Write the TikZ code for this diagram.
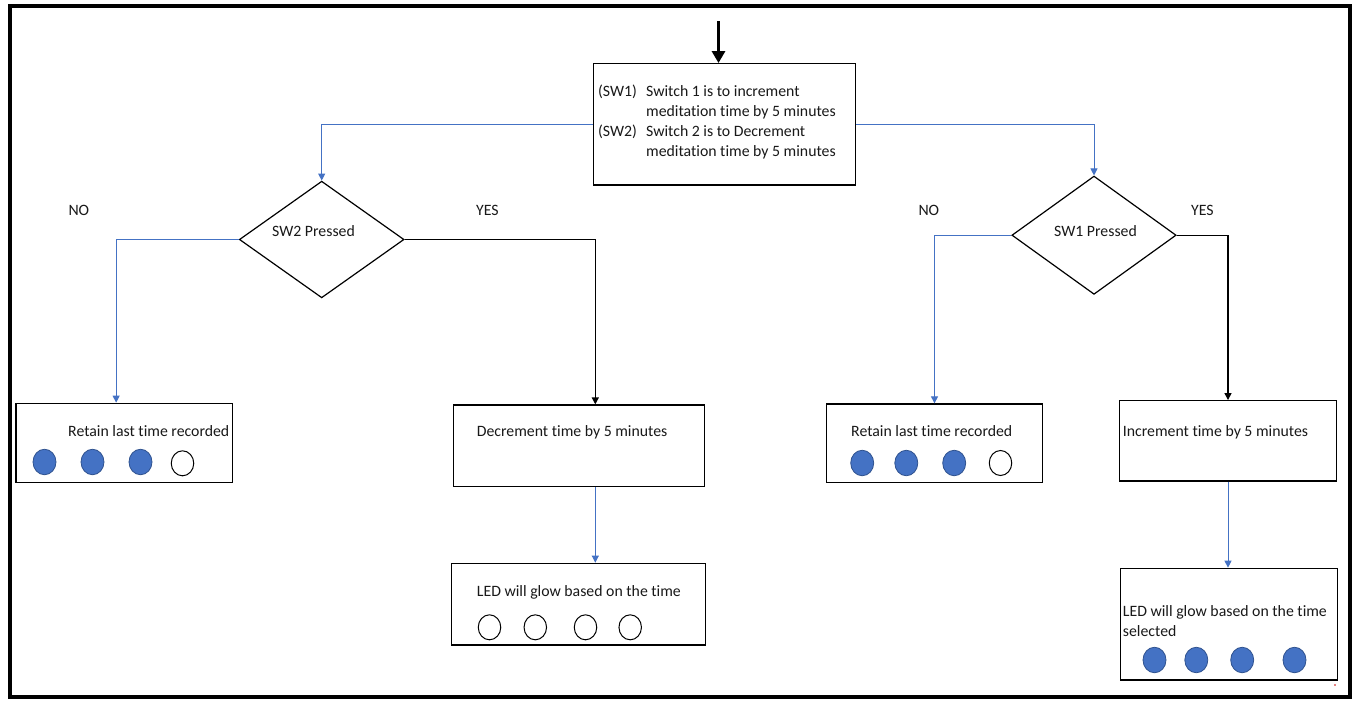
\documentclass[tikz,border=0pt]{standalone}
\usepackage{fontspec}
\setmainfont[Ligatures=NoCommon]{Carlito}
\usetikzlibrary{arrows.meta,shapes.geometric,calc}
\definecolor{offblue}{HTML}{4472C4}
\definecolor{lededge}{HTML}{2F528F}
\begin{document}
\begin{tikzpicture}[x=1pt,y=-1pt,
  font=\fontsize{15.8}{20}\selectfont,
  box/.style={draw=black,line width=1.3pt,rectangle,inner sep=0pt,fill=white},
  decision/.style={draw=black,line width=1.2pt,diamond,inner sep=0pt,aspect=1.4},
  txt/.style={anchor=base west,inner sep=0pt,text=black!90},
  bluearrow/.style={draw=offblue,line width=1pt,-{Triangle[width=7pt,length=7pt]}},
  blackarrow/.style={draw=black,line width=1.3pt,-{Triangle[width=7pt,length=7pt]}},
  ledon/.style={ellipse,draw=lededge,line width=0.8pt,fill=offblue,minimum width=23pt,minimum height=25.5pt,inner sep=0pt},
  ledoff/.style={ellipse,draw=black,line width=1pt,fill=white,minimum width=22.5pt,minimum height=25pt,inner sep=0pt}]
\useasboundingbox (0,0) rectangle (1365,710);
\fill[white] (0,0) rectangle (1365,710);
% outer frame
\draw[line width=3.8pt] (10,6) rectangle (1350,697);

% boxes
\node[box,minimum width=262pt,minimum height=121.3pt] (top) at (724.3,124.35) {};
\node[decision,minimum width=164.7pt,minimum height=116.7pt] (dL) at (321.7,239.5) {};
\node[decision,minimum width=164.3pt,minimum height=118.3pt] (dR) at (1094,235.2) {};
\node[box,minimum width=216.3pt,minimum height=79.4pt] (retL) at (124.15,443) {};
\node[box,minimum width=251pt,minimum height=81.7pt] (dec) at (578.8,445.85) {};
\node[box,minimum width=254pt,minimum height=81.7pt] (ledL) at (578.7,604.15) {};
\node[box,minimum width=215.6pt,minimum height=78.7pt] (retR) at (934.5,443.35) {};
\node[box,minimum width=217.4pt,minimum height=80.3pt] (inc) at (1228,440.85) {};
\node[box,minimum width=217pt,minimum height=111.7pt] (ledR) at (1229.2,624.15) {};

% texts
\node[txt] (t1) at (598,96.5) {(SW1)};
\node[txt] (t2) at (646,96.5) {Switch 1 is to increment};
\node[txt] (t3) at (646,116.5) {meditation time by 5 minutes};
\node[txt] (t4) at (598,136.5) {(SW2)};
\node[txt] (t5) at (646,136.5) {Switch 2 is to Decrement};
\node[txt] (t6) at (646,156.5) {meditation time by 5 minutes};
\node[txt] (sw2) at (272,236) {SW2 Pressed};
\node[txt] (sw1) at (1054,236) {SW1 Pressed};
\node[txt] (noL) at (68.3,215) {NO};
\node[txt] (yesL) at (476,215) {YES};
\node[txt] (noR) at (918.3,215) {NO};
\node[txt] (yesR) at (1191,215) {YES};
\node[txt] (retLt) at (68,436) {Retain last time recorded};
\node[txt] (dect) at (476.7,436) {Decrement time by 5 minutes};
\node[txt] (ledLt) at (476.7,596) {LED will glow based on the time};
\node[txt] (retRt) at (851,436) {Retain last time recorded};
\node[txt] (inct) at (1122.7,436) {Increment time by 5 minutes};
\node[txt] (ledRt1) at (1122.7,616.5) {LED will glow based on the time};
\node[txt] (ledRt2) at (1122.7,636.5) {selected};

% LED indicators
\node[ledon] (a1) at (44.5,462) {};
\node[ledon] (a2) at (92.5,462) {};
\node[ledon] (a3) at (140.5,462) {};
\node[ledoff] (a4) at (182.5,463.3) {};
\node[ledoff] (b1) at (489.5,627.3) {};
\node[ledoff] (b2) at (535.3,627.3) {};
\node[ledoff] (b3) at (585.5,627.3) {};
\node[ledoff] (b4) at (630.2,627.3) {};
\node[ledon] (c1) at (862.2,463) {};
\node[ledon] (c2) at (906.3,463) {};
\node[ledon] (c3) at (954.2,463) {};
\node[ledoff] (c4) at (1000.5,463) {};
\node[ledon] (e1) at (1154.5,660) {};
\node[ledon] (e2) at (1196.3,660) {};
\node[ledon] (e3) at (1242.2,660) {};
\node[ledon] (e4) at (1294.5,660) {};

% small red mark
\fill[red!80!black] (1335,685) circle (0.9pt);

% connectors
\coordinate (start) at (718.5,21);
\draw[line width=3.5pt,-{Triangle[width=13pt,length=12pt]}] (start) -- (start |- top.north);
\draw[bluearrow] (top.west) -| (dL.north);
\draw[bluearrow] (top.east) -| (dR.north);
\draw[bluearrow] (dL.west) -| ($(retL.north)+(-8,0)$);
\draw[blackarrow] (dL.east) -| ($(dec.north)+(16.5,0)$);
\draw[bluearrow] ($(dec.south)+(16.5,0)$) coordinate (dd) -- (dd |- ledL.north);
\draw[bluearrow] (dR.west) -| (retR.north);
\draw[blackarrow] (dR.east) -| (inc.north);
\draw[bluearrow] (inc.south) -- (inc.south |- ledR.north);
\end{tikzpicture}
\end{document}
